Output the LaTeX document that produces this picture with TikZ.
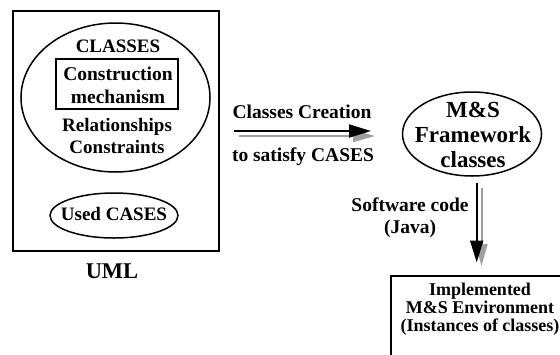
\documentclass[tikz,border=0pt]{standalone}
\usepackage{fontspec}
\setmainfont{Liberation Serif}
\usetikzlibrary{arrows.meta,shapes.geometric}
\newcommand{\fsz}[2]{\fontsize{#1}{#2}\selectfont\bfseries}
\begin{document}
\begin{tikzpicture}[x=1pt,y=-1pt,
  txt/.style={inner sep=0pt, align=center, font=\fsz{19}{22.5}},
  frame/.style={draw, line width=1.8pt, inner sep=0pt},
  oval/.style={draw, ellipse, line width=1.5pt, inner sep=0pt},
  flow/.style={line width=2pt, -{Triangle[length=22pt,width=13pt]}},
  shade/.style={flow, draw=gray!75, -{Triangle[length=22pt,width=12pt,fill=gray!75]}}]
\useasboundingbox (0,0) rectangle (560,354);
\clip (0,0) rectangle (560,354);

% UML model
\node[frame, minimum width=206pt, minimum height=240pt] (umlbox) at (116,131) {};
\node[oval, minimum width=189pt, minimum height=149pt] (classes) at (115.5,97.5) {};
\node[txt] (classlbl) at (118,46) {CLASSES};
\node[frame, line width=1.5pt, minimum width=122pt, minimum height=50pt] (mechbox) at (117,84) {};
\node[txt, font=\fsz{19.5}{22.5}] (mechlbl) at (118,85.5) {Construction\\mechanism};
\node[txt] (rellbl) at (117,136) {Relationships\\Constraints};
\node[oval, minimum width=128pt, minimum height=45pt] (cases) at (114,215.5) {};
\node[txt] (caseslbl) at (114,213.5) {Used CASES};
\node[txt, font=\fsz{22.5}{26}] (umllbl) at (112,271) {UML};

% class creation step
\node[txt, font=\fsz{19.5}{22.5}] (creation) at (302,112) {Classes Creation};
\node[txt, font=\fsz{19.5}{22.5}] (satisfy) at (303,157) {to satisfy CASES};
\coordinate (hA) at (234,131);
\coordinate (hB) at (371,131);
\coordinate (hC) at (239,136);
\coordinate (hD) at (375,136);
\draw[shade] (hC) -- (hD);
\draw[flow] (hA) -- (hB);

% framework
\node[oval, minimum width=139pt, minimum height=84pt] (framework) at (472,134) {};
\node[txt, font=\fsz{23}{25}] (fwlbl) at (473,135) {M\&S\\Framework\\classes};

% implementation step
\node[txt, font=\fsz{19.5}{21.5}] (codelbl) at (410,217.5) {Software code\\(Java)};
\coordinate (vA) at (476.7,182.5);
\coordinate (vB) at (476.7,262.5);
\coordinate (vC) at (481.5,188);
\coordinate (vD) at (481.5,266);
\draw[shade] (vC) -- (vD);
\draw[flow] (vA) -- (vB);

% environment (runs past the right edge)
\node[frame, anchor=north west, minimum width=180pt, minimum height=100pt] (envbox) at (390,275) {};
\node[txt, font=\fsz{18}{18}] (envlbl) at (480,309.5) {Implemented\\M\&S Environment\\(Instances of classes)};
\end{tikzpicture}
\end{document}
